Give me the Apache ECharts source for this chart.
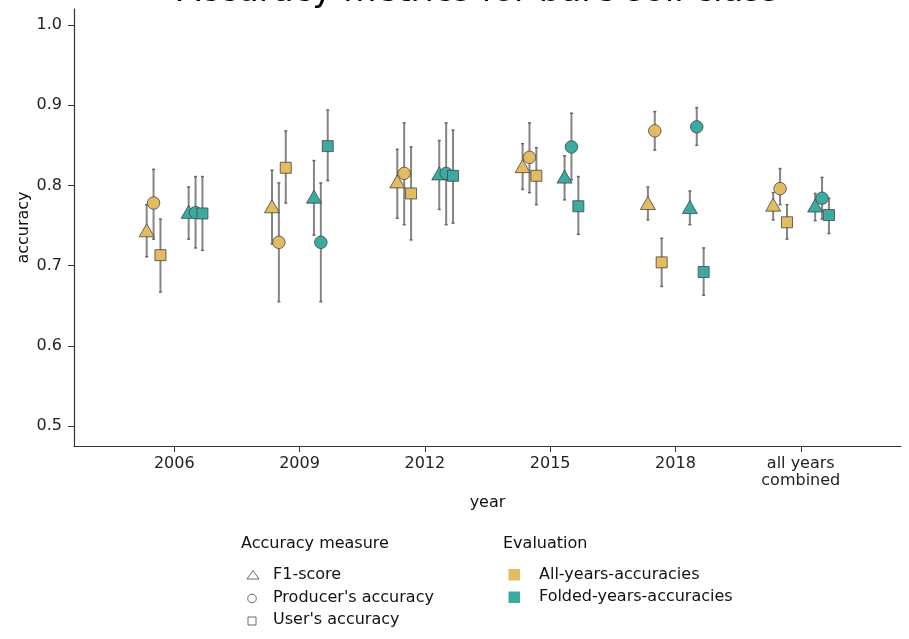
<!DOCTYPE html>
<html><head><meta charset="utf-8">
<script src="https://cdn.jsdelivr.net/npm/echarts@6/dist/echarts.min.js"></script>
<style>html,body{margin:0;padding:0;background:#fff}#c{width:909px;height:639px}</style>
</head><body><div id="c"></div>
<script>
const categories = ['2006','2009','2012','2015','2018','all years\ncombined'];
const yTicks = [0.5,0.6,0.7,0.8,0.9,1.0];

// All-years-accuracies
const allF1    = [0.744,0.774,0.805,0.824,0.778,0.776];
const allF1Lo  = [0.711,0.727,0.759,0.795,0.757,0.757];
const allF1Hi  = [0.776,0.819,0.845,0.852,0.798,0.791];
const allPA    = [0.778,0.729,0.815,0.835,0.868,0.796];
const allPALo  = [0.733,0.655,0.751,0.791,0.844,0.776];
const allPAHi  = [0.820,0.803,0.878,0.878,0.892,0.821];
const allUA    = [0.713,0.822,0.790,0.812,0.704,0.754];
const allUALo  = [0.667,0.778,0.732,0.776,0.674,0.733];
const allUAHi  = [0.758,0.868,0.848,0.847,0.734,0.776];

// Folded-years-accuracies
const foldF1   = [0.767,0.786,0.815,0.811,0.773,0.775];
const foldF1Lo = [0.733,0.738,0.770,0.782,0.751,0.756];
const foldF1Hi = [0.798,0.831,0.856,0.837,0.793,0.790];
const foldPA   = [0.766,0.729,0.815,0.848,0.873,0.784];
const foldPALo = [0.722,0.655,0.751,0.807,0.850,0.758];
const foldPAHi = [0.811,0.803,0.878,0.890,0.897,0.810];
const foldUA   = [0.765,0.849,0.812,0.774,0.692,0.763];
const foldUALo = [0.719,0.806,0.753,0.739,0.663,0.740];
const foldUAHi = [0.811,0.894,0.869,0.811,0.722,0.784];

const GOLD = '#e3bb61', TEAL = '#3aaba0';
const FONT = 'DejaVu Sans';

const groups = [
  {v:allF1, lo:allF1Lo, hi:allF1Hi, off:-0.22, sym:'triangle', size:[15,13], color:GOLD},
  {v:allPA, lo:allPALo, hi:allPAHi, off:-0.165, sym:'circle', size:12.5, color:GOLD},
  {v:allUA, lo:allUALo, hi:allUAHi, off:-0.11, sym:'rect', size:11, color:GOLD},
  {v:foldF1, lo:foldF1Lo, hi:foldF1Hi, off:0.115, sym:'triangle', size:[15,13], color:TEAL},
  {v:foldPA, lo:foldPALo, hi:foldPAHi, off:0.17, sym:'circle', size:12.5, color:TEAL},
  {v:foldUA, lo:foldUALo, hi:foldUAHi, off:0.225, sym:'rect', size:11, color:TEAL}
];

const series = [];
groups.forEach(g => {
  series.push({
    type:'custom', z:1, silent:true,
    data: g.v.map((_, i) => [i + g.off, g.lo[i], g.hi[i]]),
    renderItem: function(params, api){
      const x = api.value(0);
      const top = api.coord([x, api.value(2)]);
      const bot = api.coord([x, api.value(1)]);
      const st = {stroke:'#858585', lineWidth:2};
      return {type:'group', children:[
        {type:'line', shape:{x1:top[0],y1:top[1],x2:bot[0],y2:bot[1]}, style:st},
        {type:'line', shape:{x1:top[0]-1.5,y1:top[1],x2:top[0]+1.5,y2:top[1]}, style:{stroke:'#666',lineWidth:1.5}},
        {type:'line', shape:{x1:bot[0]-1.5,y1:bot[1],x2:bot[0]+1.5,y2:bot[1]}, style:{stroke:'#666',lineWidth:1.5}}
      ]};
    }
  });
  series.push({
    type:'scatter', z:3, symbol:g.sym, symbolSize:g.size,
    itemStyle:{color:g.color, borderColor:'#444', borderWidth:0.8, opacity:1},
    data: g.v.map((v, i) => [i + g.off, v])
  });
});

const lt = (text, x, y) => ({type:'text', style:{text, x, y, textVerticalAlign:'middle', fontFamily:FONT, fontSize:16, fill:'#111'}});
const graphic = [
  {type:'text', style:{text:'Accuracy metrics for bare soil class', fontFamily:FONT, fontSize:34, fill:'#000', x:478, y:-8, textAlign:'center', textVerticalAlign:'middle'}},
  lt('Accuracy measure', 241, 543.5),
  lt('Evaluation', 503, 543.5),
  {type:'polygon', shape:{points:[[253,570.5],[247,579],[259,579]]}, style:{fill:'none', stroke:'#444', lineWidth:0.8}},
  {type:'circle', shape:{cx:252, cy:598.5, r:4.3}, style:{fill:'none', stroke:'#444', lineWidth:0.8}},
  {type:'rect', shape:{x:248, y:617, width:8, height:8}, style:{fill:'none', stroke:'#444', lineWidth:0.8}},
  lt('F1-score', 273, 575),
  lt("Producer's accuracy", 273, 598),
  lt("User's accuracy", 273, 620),
  {type:'rect', shape:{x:508.5, y:569, width:11.5, height:11.5}, style:{fill:GOLD}},
  {type:'rect', shape:{x:508.5, y:591.5, width:11.5, height:11.5}, style:{fill:TEAL}},
  lt('All-years-accuracies', 539, 574.5),
  lt('Folded-years-accuracies', 539, 597)
];

const chart = echarts.init(document.getElementById('c'), null, {renderer:'canvas'});
chart.setOption({
  animation:false,
  backgroundColor:'#fff',
  grid:{left:74, right:8, top:9, bottom:193, containLabel:false},
  xAxis:{
    type:'value', min:-0.8, max:5.8,
    name:'year', nameLocation:'middle', nameGap:49, nameMoveOverlap:false,
    nameTextStyle:{fontFamily:FONT, fontSize:16, color:'#111'},
    axisLine:{show:true, onZero:false, lineStyle:{color:'#333', width:1.2}},
    axisTick:{show:true, length:6, customValues:[0,1,2,3,4,5], lineStyle:{color:'#333'}},
    axisLabel:{customValues:[0,1,2,3,4,5], fontFamily:FONT, fontSize:16, color:'#222', margin:9, lineHeight:17,
      formatter: v => categories[Math.round(v)]},
    splitLine:{show:false}
  },
  yAxis:{
    type:'value', min:0.475, max:1.02,
    name:'accuracy', nameLocation:'middle', nameGap:42, nameRotate:90, nameMoveOverlap:false,
    nameTextStyle:{fontFamily:FONT, fontSize:16, color:'#111'},
    axisLine:{show:true, onZero:false, lineStyle:{color:'#333', width:1.2}},
    axisTick:{show:true, length:6, customValues:yTicks, lineStyle:{color:'#333'}},
    axisLabel:{customValues:yTicks, fontFamily:FONT, fontSize:16, color:'#222', margin:12,
      formatter: v => v.toFixed(1)},
    splitLine:{show:false}
  },
  graphic: graphic,
  series: series
});
</script></body></html>
